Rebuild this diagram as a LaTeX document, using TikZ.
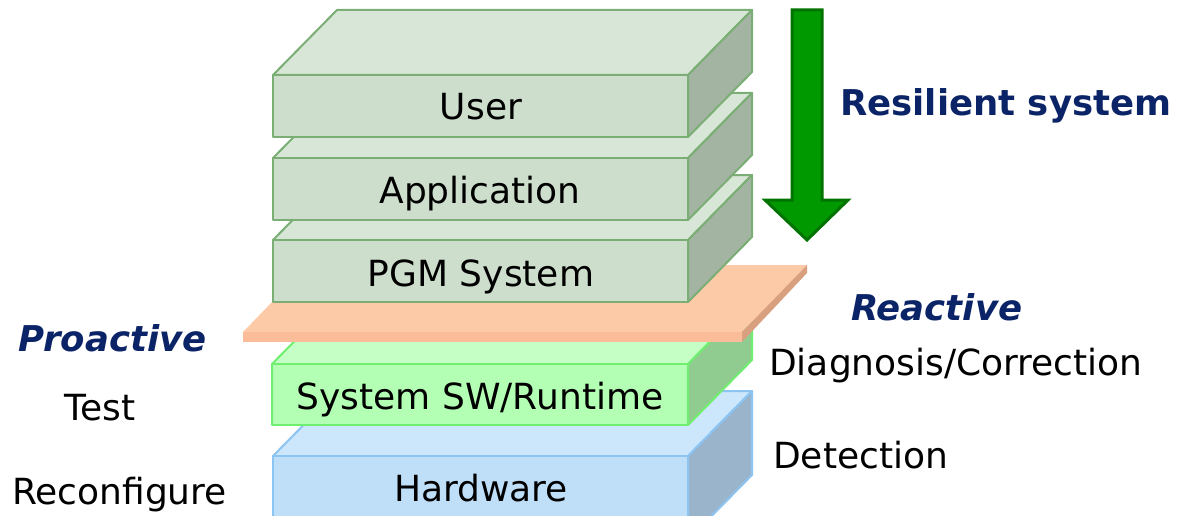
\documentclass[tikz,border=0pt]{standalone}
\usepackage{fontspec}
\setmainfont{DejaVu Sans}
\definecolor{gfront}{HTML}{CDDFCC}
\definecolor{gtop}{HTML}{D8E6D7}
\definecolor{gside}{HTML}{A3B4A3}
\definecolor{gline}{HTML}{7BAE74}
\definecolor{sfront}{HTML}{B3FFB3}
\definecolor{stop}{HTML}{C5FFC5}
\definecolor{sside}{HTML}{90CC90}
\definecolor{sline}{HTML}{70EE70}
\definecolor{hfront}{HTML}{BFDFF9}
\definecolor{htop}{HTML}{CCE6FB}
\definecolor{hside}{HTML}{9AB4CC}
\definecolor{hline}{HTML}{8CC4F2}
\definecolor{ptop}{HTML}{FDCAA8}
\definecolor{pfront}{HTML}{FBBD99}
\definecolor{pside}{HTML}{D9A07F}
\definecolor{arrfill}{HTML}{009900}
\definecolor{arrline}{HTML}{007300}
\definecolor{navy}{HTML}{0B2467}
\newcommand\myslab[8]{% x1 x2 ytop ybot front top side line
  \draw[#8,line width=2pt,line join=round,fill=#6] (#1,#3)--++(64,-65)--(#2+64,#3-65)--(#2,#3)--cycle;
  \draw[#8,line width=2pt,line join=round,fill=#7] (#2,#3)--++(64,-65)--(#2+64,#4-65)--(#2,#4)--cycle;
  \draw[#8,line width=2pt,line join=round,fill=#5] (#1,#3) rectangle (#2,#4);
}
\tikzset{
  lbl/.style={font=\fontsize{36}{43}\selectfont, inner sep=0pt, anchor=base},
  side/.style={font=\fontsize{36}{43}\selectfont, inner sep=0pt, anchor=base west},
  head/.style={font=\fontsize{35.5}{43}\selectfont\bfseries, text=navy, inner sep=0pt, anchor=base west},
  headit/.style={font=\fontsize{35.5}{43}\selectfont\bfseries\itshape, text=navy, inner sep=0pt, anchor=base west},
}
\begin{document}
\begin{tikzpicture}[x=1pt,y=-1pt]
\useasboundingbox (0,0) rectangle (1177,516);
\clip (0,0) rectangle (1177,516);
% hardware
\myslab{273}{688}{456}{540}{hfront}{htop}{hside}{hline}
\node[lbl] (hw) at (481,501) {Hardware};
% system sw
\myslab{272}{688}{364}{425}{sfront}{stop}{sside}{sline}
\node[lbl] (sw) at (480,409) {System SW/Runtime};
% orange plate
\fill[ptop] (243,332)--(308,265)--(807,265)--(742,332)--cycle;
\fill[pside] (742,332)--(807,265)--(807,273)--(742,342)--cycle;
\fill[pfront] (243,332) rectangle (742,342);
% PGM
\myslab{273}{688}{240}{302}{gfront}{gtop}{gside}{gline}
\node[lbl] (pgm) at (481,286) {PGM System};
% Application
\myslab{273}{688}{158}{220}{gfront}{gtop}{gside}{gline}
\node[lbl] (app) at (480,203) {Application};
% User
\myslab{273}{688}{75}{137}{gfront}{gtop}{gside}{gline}
\node[lbl] (user) at (481,120) {User};
% arrow
\draw[arrline,fill=arrfill,line width=3pt,line join=miter] (792,10)--(822,10)--(822,200)--(848,200)--(807,240)--(765,200)--(792,200)--cycle;
% labels
\node[head] (res) at (840,116) {Resilient system};
\node[headit] (react) at (851,320) {Reactive};
\node[headit] (pro) at (18,351) {Proactive};
\node[side] (diag) at (769,375) {Diagnosis/Correction};
\node[side] (test) at (64,420) {Test};
\node[side] (det) at (773,468) {Detection};
\node[side] (reconf) at (12,504) {Reconfigure};
\end{tikzpicture}
\end{document}
